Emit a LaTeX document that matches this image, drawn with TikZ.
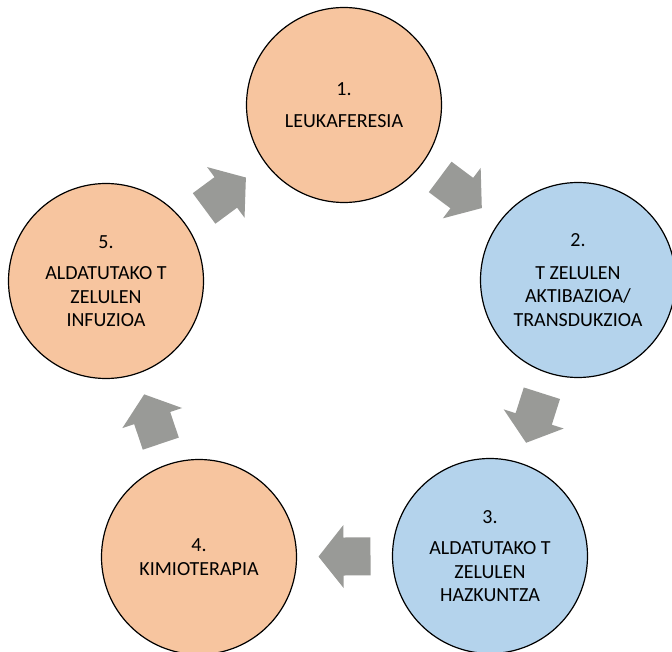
\documentclass[tikz,border=0pt]{standalone}
\usepackage{fontspec}
\setmainfont{Carlito}
\usetikzlibrary{calc}

\definecolor{peach}{HTML}{F7C59F}
\definecolor{paleblue}{HTML}{B4D3EC}
\definecolor{arrowgray}{HTML}{999A97}

\tikzset{
  stepcircle/.style={circle, draw, line width=1.2pt, minimum size=195pt, inner sep=0pt,
    align=center, font=\fontsize{20}{23.5}\selectfont},
}

\begin{document}
\begin{tikzpicture}[x=1pt, y=-1pt]
\useasboundingbox (0,0) rectangle (672,652);

% Urratsak
\node[stepcircle, fill=peach] (c1) at (344,105) {1.\\[8pt]LEUKAFERESIA};
\node[stepcircle, fill=paleblue] (c2) at (578,280) {2.\\[9pt]T ZELULEN\\AKTIBAZIOA/\\TRANSDUKZIOA};
\node[stepcircle, fill=paleblue] (c3) at (490,556) {3.\\[8pt]ALDATUTAKO T\\ZELULEN\\HAZKUNTZA};
\node[stepcircle, fill=peach] (c4) at (199,557) {4.\\KIMIOTERAPIA};
\node[stepcircle, fill=peach] (c5) at (106,281) {5.\\[8pt]ALDATUTAKO T\\ZELULEN\\INFUZIOA};

% Geziak
\foreach \a/\b in {c1/c2, c2/c3, c3/c4, c4/c5, c5/c1}
  \path[fill=arrowgray] let \p1=($(\b)-(\a)$), \n1={atan2(\y1,\x1)}, \p2=($(\a)!0.5!(\b)$) in
    [shift={(\p2)}, rotate=\n1]
    (-26,19) -- (1,19) -- (1,31.5) -- (26,0) -- (1,-31.5) -- (1,-19) -- (-26,-19) -- cycle;

\end{tikzpicture}
\end{document}
